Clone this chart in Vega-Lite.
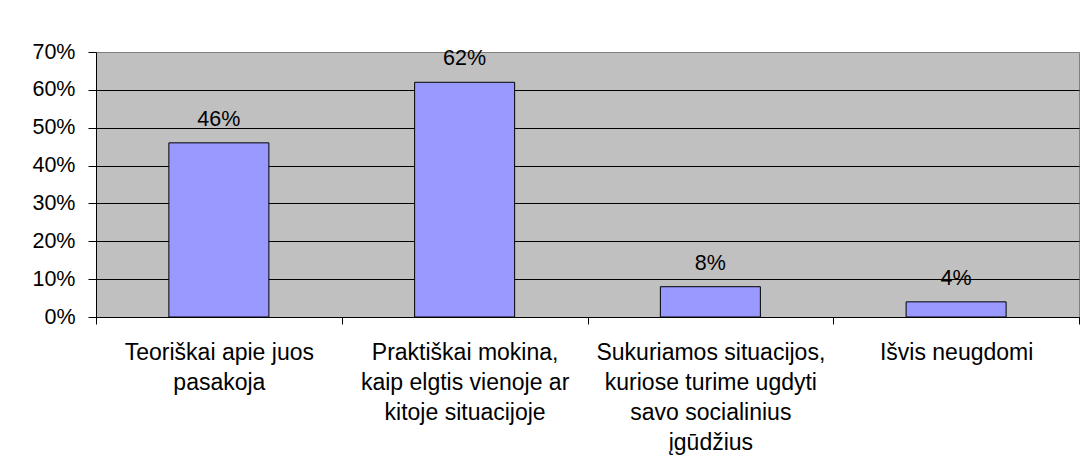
{
  "$schema": "https://vega.github.io/schema/vega-lite/v6.json",
  "autosize": {"type": "none"},
  "padding": {"left": 96, "top": 52, "right": 3, "bottom": 157},
  "width": 983,
  "height": 265,
  "background": "#FFFFFF",
  "data": {
    "values": [
      {"category": "Teoriškai apie juos\npasakoja", "value": 0.46},
      {"category": "Praktiškai mokina,\nkaip elgtis vienoje ar\nkitoje situacijoje", "value": 0.62},
      {"category": "Sukuriamos situacijos,\nkuriose turime ugdyti\nsavo socialinius\nįgūdžius", "value": 0.08},
      {"category": "Išvis neugdomi", "value": 0.04}
    ]
  },
  "config": {
    "font": "Liberation Sans",
    "view": {"fill": "#C0C0C0", "stroke": "#808080", "strokeWidth": 1},
    "axis": {
      "labelFont": "Liberation Sans",
      "labelFontSize": 21.5,
      "labelColor": "#000000",
      "domainColor": "#000000",
      "tickColor": "#000000",
      "gridColor": "#000000",
      "gridOpacity": 1,
      "domainWidth": 1,
      "tickWidth": 1,
      "labelOverlap": false,
      "title": null
    }
  },
  "layer": [
    {
      "mark": {"type": "bar", "fill": "#9999FF", "stroke": "#000000", "strokeWidth": 1, "width": {"band": 0.407}},
      "encoding": {
        "x": {
          "field": "category",
          "type": "nominal",
          "sort": null,
          "scale": {"paddingInner": 0, "paddingOuter": 0},
          "axis": {
            "labelAngle": 0,
            "tickBand": "extent",
            "tickSize": 7,
            "labelPadding": 17,
            "labelBaseline": "top",
            "labelFontSize": 23,
            "labelLineHeight": 30,
            "labelExpr": "split(datum.label, '\\n')",
            "labelLimit": 400,
            "grid": false
          }
        },
        "y": {
          "field": "value",
          "type": "quantitative",
          "scale": {"domain": [0, 0.7], "nice": false},
          "axis": {
            "values": [0, 0.1, 0.2, 0.3, 0.4, 0.5, 0.6, 0.7],
            "tickCount": 20,
            "format": ".0%",
            "tickSize": 8,
            "labelPadding": 13,
            "labelOverlap": false,
            "grid": true,
            "gridColor": {"condition": {"test": "datum.value > 0.69", "value": "#808080"}, "value": "#000000"}
          }
        }
      }
    },
    {
      "mark": {"type": "text", "baseline": "bottom", "dy": -12, "fontSize": 21.5, "font": "Liberation Sans", "color": "#000000"},
      "encoding": {
        "x": {"field": "category", "type": "nominal", "sort": null},
        "y": {"field": "value", "type": "quantitative"},
        "text": {"field": "value", "type": "quantitative", "format": ".0%"}
      }
    }
  ]
}
